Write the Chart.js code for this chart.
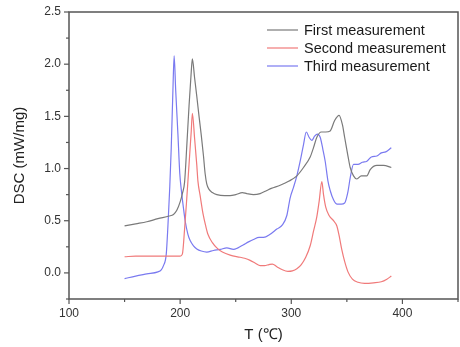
<!DOCTYPE html>
<html>
<head>
<meta charset="utf-8">
<script src="https://cdn.jsdelivr.net/npm/chart.js@4.4.0/dist/chart.umd.min.js"></script>
<style>
  html, body { margin: 0; padding: 0; background: #fff; }
  #wrap { width: 460px; height: 347px; }
</style>
</head>
<body>
<div id="wrap"><canvas id="myChart" width="460" height="347"></canvas></div>
<script>
// DSC curves (T in deg C, DSC in mW/mg)
const seriesNames = ["First measurement", "Second measurement", "Third measurement"];

const firstT   = [150, 160, 170, 180, 190, 194, 197, 200, 202, 204, 206, 208, 210, 211, 213, 215, 217, 219, 221, 222.5, 224, 226, 229, 233, 240, 245, 250, 256, 260, 266, 272, 278, 282, 290, 298, 305, 311, 317, 320, 323, 327, 331, 335, 339, 343, 346, 348, 351, 353, 356, 359, 363, 368, 371, 377, 383, 390];
const firstDSC = [0.45, 0.47, 0.49, 0.52, 0.545, 0.56, 0.60, 0.68, 0.76, 0.87, 1.22, 1.60, 1.93, 2.05, 1.87, 1.69, 1.50, 1.32, 1.12, 0.95, 0.85, 0.80, 0.77, 0.75, 0.74, 0.74, 0.75, 0.77, 0.76, 0.75, 0.76, 0.79, 0.81, 0.84, 0.88, 0.93, 1.01, 1.11, 1.20, 1.30, 1.35, 1.35, 1.36, 1.46, 1.51, 1.42, 1.30, 1.12, 1.01, 0.93, 0.90, 0.93, 0.93, 0.99, 1.03, 1.03, 1.01];

const secondT   = [150, 160, 170, 180, 190, 200, 202, 204, 206, 208, 210, 211, 213, 215, 216, 218, 220.7, 223, 225, 229, 233, 238, 245, 254, 258, 263, 268, 272, 276, 280, 283, 287, 292, 297, 301, 305, 309, 313, 317, 320, 323, 325, 327.5, 329, 331, 334, 338, 341, 343, 345.5, 348, 351, 355, 360, 366, 374, 381, 386, 390];
const secondDSC = [0.155, 0.16, 0.16, 0.16, 0.16, 0.16, 0.18, 0.42, 0.72, 1.04, 1.36, 1.53, 1.29, 1.03, 0.88, 0.74, 0.56, 0.45, 0.37, 0.29, 0.24, 0.20, 0.17, 0.15, 0.14, 0.12, 0.09, 0.07, 0.07, 0.08, 0.085, 0.06, 0.03, 0.015, 0.02, 0.04, 0.08, 0.15, 0.26, 0.40, 0.54, 0.68, 0.875, 0.75, 0.63, 0.55, 0.50, 0.45, 0.36, 0.22, 0.11, 0.01, -0.06, -0.09, -0.10, -0.095, -0.085, -0.06, -0.03];

const thirdT   = [150, 160, 170, 180, 183, 185, 187.5, 189, 190.7, 192, 193.5, 194.6, 196, 198, 199.7, 201, 203, 204.5, 207, 209, 212, 215, 219, 224, 230, 236, 242, 248, 252, 257, 262, 266, 271, 275, 281, 287, 292, 296, 299, 302, 305, 308, 311, 313.5, 316, 318.5, 321, 323.5, 326, 328.5, 330.5, 333, 335, 338, 341, 345, 348, 351, 353, 356, 360, 364, 368, 372, 377, 381, 385, 390];
const thirdDSC = [-0.055, -0.03, -0.01, 0.01, 0.03, 0.07, 0.18, 0.45, 0.83, 1.20, 1.75, 2.08, 1.75, 1.33, 0.95, 0.80, 0.62, 0.50, 0.37, 0.31, 0.26, 0.23, 0.21, 0.20, 0.215, 0.225, 0.24, 0.225, 0.24, 0.27, 0.30, 0.32, 0.34, 0.34, 0.37, 0.42, 0.46, 0.55, 0.72, 0.82, 0.93, 1.07, 1.23, 1.35, 1.30, 1.27, 1.31, 1.33, 1.30, 1.18, 1.07, 0.88, 0.79, 0.70, 0.66, 0.66, 0.67, 0.78, 0.91, 1.04, 1.04, 1.06, 1.07, 1.11, 1.12, 1.15, 1.16, 1.20];

const seriesColors = ["#7a7a7a", "#f07a7a", "#7a7af0"];

// axis settings
const xMin = 100, xMax = 450, xStep = 50, xLabelEvery = 100;
const yMin = -0.25, yMax = 2.5, yStep = 0.25, yLabelEvery = 0.5;

function toPoints(xs, ys) {
  let pts = [];
  for (let i = 0; i < xs.length; i++) {
    pts.push({ x: xs[i], y: ys[i] });
  }
  return pts;
}

function isMajor(v, every) {
  const r = v / every;
  return Math.abs(r - Math.round(r)) < 1e-6;
}

const axisColor = "#555";

// box around the plot + major/minor tick marks
const boxPlugin = {
  id: "box",
  afterDraw(chart) {
    const ctx = chart.ctx;
    const a = chart.chartArea;
    ctx.save();
    ctx.strokeStyle = axisColor;
    ctx.lineWidth = 1.5;
    ctx.strokeRect(a.left, a.top, a.right - a.left, a.bottom - a.top);

    ctx.lineWidth = 1.2;
    const xs = chart.scales.x;
    xs.ticks.forEach((t) => {
      const px = xs.getPixelForValue(t.value);
      const len = isMajor(t.value, xLabelEvery) ? 5 : 3;
      ctx.beginPath();
      ctx.moveTo(px, a.bottom);
      ctx.lineTo(px, a.bottom + len);
      ctx.stroke();
    });
    const ys = chart.scales.y;
    ys.ticks.forEach((t) => {
      const py = ys.getPixelForValue(t.value);
      const len = isMajor(t.value, yLabelEvery) ? 5 : 3;
      ctx.beginPath();
      ctx.moveTo(a.left, py);
      ctx.lineTo(a.left - len, py);
      ctx.stroke();
    });
    ctx.restore();
  },
};

// legend drawn in the upper right corner of the plot
const legendPlugin = {
  id: "cornerLegend",
  afterDraw(chart) {
    const ctx = chart.ctx;
    const a = chart.chartArea;
    ctx.save();
    ctx.font = "14.5px 'Liberation Sans', Arial, sans-serif";
    ctx.textBaseline = "middle";
    ctx.textAlign = "left";
    chart.data.datasets.forEach((ds, i) => {
      const y = a.top + 18 + i * 18;
      ctx.strokeStyle = ds.borderColor;
      ctx.lineWidth = 1.2;
      ctx.beginPath();
      ctx.moveTo(a.right - 191, y);
      ctx.lineTo(a.right - 160, y);
      ctx.stroke();
      ctx.fillStyle = "#1a1a1a";
      ctx.fillText(ds.label, a.right - 154, y + 1);
    });
    ctx.restore();
  },
};

const datasets = [
  { label: seriesNames[0], data: toPoints(firstT, firstDSC), borderColor: seriesColors[0] },
  { label: seriesNames[1], data: toPoints(secondT, secondDSC), borderColor: seriesColors[1] },
  { label: seriesNames[2], data: toPoints(thirdT, thirdDSC), borderColor: seriesColors[2] },
].map((d) => Object.assign(d, {
  borderWidth: 1.2,
  pointRadius: 0,
  fill: false,
  cubicInterpolationMode: "monotone",
}));

const tickFont = { family: "'Liberation Sans', Arial, sans-serif", size: 12 };
const titleFont = { family: "'Liberation Sans', Arial, sans-serif", size: 15 };

var chart = new Chart(document.getElementById("myChart"), {
  type: "line",
  data: { datasets: datasets },
  options: {
    responsive: false,
    animation: false,
    events: [],
    layout: { padding: { top: 12, right: 2, left: 0, bottom: 0 } },
    plugins: {
      legend: { display: false },
      tooltip: { enabled: false },
    },
    scales: {
      x: {
        type: "linear",
        min: xMin,
        max: xMax,
        afterFit(scale) {
          scale.height = 48;
          scale.paddingLeft = 0;
          scale.paddingRight = 0;
        },
        grid: { display: false, drawTicks: false },
        border: { display: false },
        ticks: {
          stepSize: xStep,
          padding: 7,
          color: "#333",
          font: tickFont,
          maxRotation: 0,
          autoSkip: false,
          callback: (v) => (isMajor(v, xLabelEvery) ? String(v) : ""),
        },
        title: {
          display: true,
          text: "T (\u2103)",
          color: "#222",
          font: titleFont,
          padding: { top: 0, bottom: 3 },
        },
      },
      y: {
        min: yMin,
        max: yMax,
        afterFit(scale) {
          scale.width = 69;
          scale.paddingTop = 0;
          scale.paddingBottom = 0;
        },
        grid: { display: false, drawTicks: false },
        border: { display: false },
        ticks: {
          stepSize: yStep,
          padding: 8,
          color: "#333",
          font: tickFont,
          autoSkip: false,
          callback: (v) => (isMajor(v, yLabelEvery) ? v.toFixed(1) : ""),
        },
        title: {
          display: true,
          text: "DSC (mW/mg)",
          color: "#222",
          font: titleFont,
          padding: { top: 11, bottom: 0 },
        },
      },
    },
  },
  plugins: [boxPlugin, legendPlugin],
});
</script>
</body>
</html>
